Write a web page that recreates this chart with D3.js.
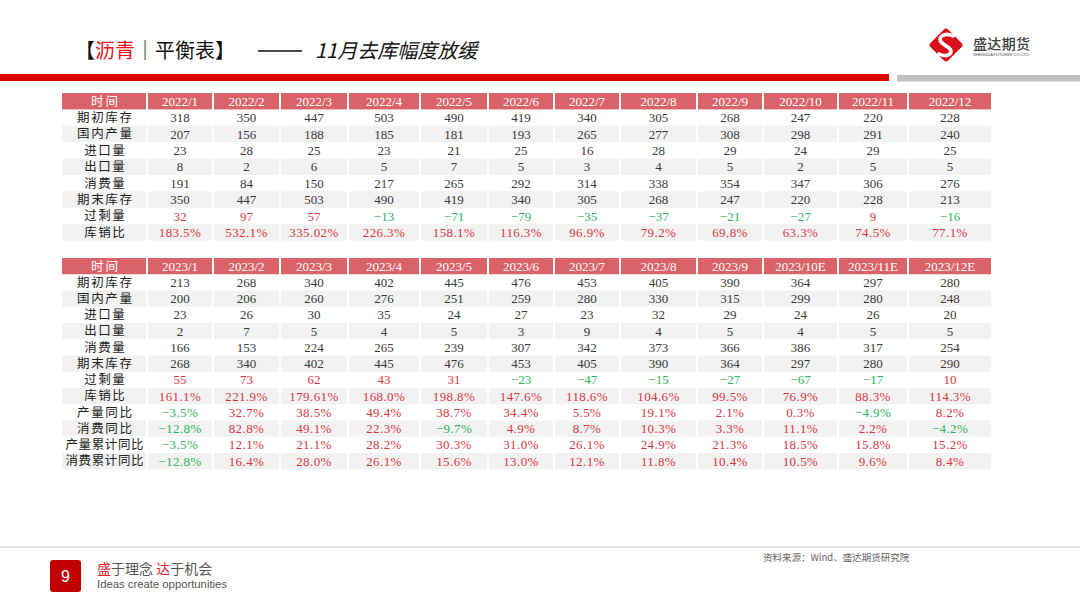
<!DOCTYPE html>
<html><head><meta charset="utf-8">
<script src="https://cdn.jsdelivr.net/npm/d3@7"></script>
<style>
html,body{margin:0;padding:0;background:#fff;}
svg{display:block;}
</style></head>
<body><svg id="c" width="1080" height="608"></svg>
<script>
// ---------- data ----------
const periods2022 = ["2022/1","2022/2","2022/3","2022/4","2022/5","2022/6","2022/7","2022/8","2022/9","2022/10","2022/11","2022/12"];
const periods2023 = ["2023/1","2023/2","2023/3","2023/4","2023/5","2023/6","2023/7","2023/8","2023/9","2023/10E","2023/11E","2023/12E"];
const rowLabels2022 = ["期初库存","国内产量","进口量","出口量","消费量","期末库存","过剩量","库销比"];
const rowLabels2023 = ["期初库存","国内产量","进口量","出口量","消费量","期末库存","过剩量","库销比","产量同比","消费同比","产量累计同比","消费累计同比"];

const openStock2022 = [318,350,447,503,490,419,340,305,268,247,220,228];
const output2022    = [207,156,188,185,181,193,265,277,308,298,291,240];
const imports2022   = [23,28,25,23,21,25,16,28,29,24,29,25];
const exports2022   = [8,2,6,5,7,5,3,4,5,2,5,5];
const consume2022   = [191,84,150,217,265,292,314,338,354,347,306,276];
const closeStock2022= [350,447,503,490,419,340,305,268,247,220,228,213];
const surplus2022   = [32,97,57,-13,-71,-79,-35,-37,-21,-27,9,-16];
const stockRatio2022= ["183.5","532.1","335.02","226.3","158.1","116.3","96.9","79.2","69.8","63.3","74.5","77.1"];

const openStock2023 = [213,268,340,402,445,476,453,405,390,364,297,280];
const output2023    = [200,206,260,276,251,259,280,330,315,299,280,248];
const imports2023   = [23,26,30,35,24,27,23,32,29,24,26,20];
const exports2023   = [2,7,5,4,5,3,9,4,5,4,5,5];
const consume2023   = [166,153,224,265,239,307,342,373,366,386,317,254];
const closeStock2023= [268,340,402,445,476,453,405,390,364,297,280,290];
const surplus2023   = [55,73,62,43,31,-23,-47,-15,-27,-67,-17,10];
const stockRatio2023= ["161.1","221.9","179.61","168.0","198.8","147.6","118.6","104.6","99.5","76.9","88.3","114.3"];
const outputYoY2023 = ["-3.5","32.7","38.5","49.4","38.7","34.4","5.5","19.1","2.1","0.3","-4.9","8.2"];
const consumeYoY2023= ["-12.8","82.8","49.1","22.3","-9.7","4.9","8.7","10.3","3.3","11.1","2.2","-4.2"];
const outputCumYoY2023 = ["-3.5","12.1","21.1","28.2","30.3","31.0","26.1","24.9","21.3","18.5","15.8","15.2"];
const consumeCumYoY2023= ["-12.8","16.4","28.0","26.1","15.6","13.0","12.1","11.8","10.4","10.5","9.6","8.4"];

// ---------- layout ----------
const svg = d3.select("#c");
const RED_HDR = "#d96369", GRAY_ROW = "#f2f2f2", TXT = "#3a3a3a", POS = "#d9363e", NEG = "#2fb35a";
const SERIF = "'Liberation Serif','Noto Sans CJK SC',serif";
const CJK = "'Noto Sans CJK SC',sans-serif";
const colWidths = [85,66,67,68,72,68,66,66,77,66,75,70,84];
const tableLeft = 62;

function makeX(cols){
  const keys = ["label"].concat(cols);
  const starts = []; let acc = tableLeft;
  colWidths.forEach(w => { starts.push(acc); acc += w; });
  return {
    x: d3.scaleOrdinal().domain(keys).range(starts),
    w: d3.scaleOrdinal().domain(keys).range(colWidths),
    keys
  };
}

function drawTable(top, rowH, cols, labels, rows){
  const g = svg.append("g");
  const {x, w, keys} = makeX(cols);
  const rowKeys = ["hdr"].concat(labels);
  const y = d3.scaleBand().domain(rowKeys).range([top, top + rowH*rowKeys.length]).padding(0);
  // backgrounds
  rowKeys.forEach((rk, ri) => {
    const fill = ri === 0 ? RED_HDR : (ri % 2 === 0 ? GRAY_ROW : null);
    if (!fill) return;
    g.selectAll(null).data(keys).enter().append("rect")
      .attr("x", d => x(d) + (d === "label" ? 0 : 1))
      .attr("width", d => w(d) - (d === "label" ? 1 : 2))
      .attr("y", y(rk)).attr("height", y.bandwidth())
      .attr("fill", fill);
  });
  // header text
  g.selectAll(null).data(keys).enter().append("text")
    .attr("x", d => x(d) + w(d)/2 + (d === "label" ? 1 : 0))
    .attr("y", y("hdr") + y.bandwidth()/2 + 4.5)
    .attr("text-anchor","middle")
    .attr("fill","#fff")
    .attr("font-family", d => d === "label" ? CJK : SERIF)
    .attr("font-size", d => d === "label" ? 12.5 : 13)
    .attr("letter-spacing", d => d === "label" ? 2 : 0)
    .text(d => d === "label" ? "时间" : d);
  // row labels
  const ls = d => d.length <= 4 ? 1.6 : 0.6;
  g.selectAll(null).data(labels).enter().append("text")
    .attr("x", d => x("label") + w("label")/2 + ls(d)/2)
    .attr("y", d => y(d) + y.bandwidth()/2 + 4.3)
    .attr("text-anchor","middle")
    .attr("fill", "#222")
    .attr("font-family", CJK)
    .attr("font-size", 12.5)
    .attr("letter-spacing", ls)
    .text(d => d);
  // values
  rows.forEach((r, ri) => {
    const lab = labels[ri];
    g.selectAll(null).data(r.values.map((v,i)=>({v, c: cols[i]}))).enter().append("text")
      .attr("x", d => x(d.c) + w(d.c)/2)
      .attr("y", y(lab) + y.bandwidth()/2 + 4.5)
      .attr("text-anchor","middle")
      .attr("font-family", SERIF)
      .attr("font-size", 13)
      .attr("letter-spacing", r.pct ? 0.4 : 0)
      .attr("fill", d => r.colored ? (parseFloat(d.v) < 0 ? NEG : POS) : TXT)
      .text(d => String(d.v).replace("-", "\u2212") + (r.pct ? "%" : ""));
  });
}

drawTable(93, 16.4, periods2022, rowLabels2022, [
  {values: openStock2022}, {values: output2022}, {values: imports2022}, {values: exports2022},
  {values: consume2022}, {values: closeStock2022},
  {values: surplus2022, colored: true}, {values: stockRatio2022, colored: true, pct: true}
]);
drawTable(258, 16.25, periods2023, rowLabels2023, [
  {values: openStock2023}, {values: output2023}, {values: imports2023}, {values: exports2023},
  {values: consume2023}, {values: closeStock2023},
  {values: surplus2023, colored: true}, {values: stockRatio2023, colored: true, pct: true},
  {values: outputYoY2023, colored: true, pct: true}, {values: consumeYoY2023, colored: true, pct: true},
  {values: outputCumYoY2023, colored: true, pct: true}, {values: consumeCumYoY2023, colored: true, pct: true}
]);

// ---------- title ----------
const t = svg.append("text").attr("x", 75).attr("y", 58).attr("font-family", CJK).attr("font-size", 20).attr("fill","#111");
t.append("tspan").text("【");
t.append("tspan").attr("fill","#e8141c").text("沥青");
t.append("tspan").text("｜平衡表】");
svg.append("line").attr("x1",258).attr("x2",302).attr("y1",51).attr("y2",51).attr("stroke","#111").attr("stroke-width",1.3);
svg.append("text").attr("x", 315).attr("y", 58).attr("font-family", CJK).attr("font-size", 20)
  .attr("font-style","italic").attr("fill","#111").text("11月去库幅度放缓");

// bars under title
svg.append("rect").attr("x",0).attr("y",74).attr("width",889).attr("height",7).attr("fill","#e00000");
svg.append("rect").attr("x",897).attr("y",75).attr("width",183).attr("height",6.5).attr("fill","#c0c0c0");

// logo
const lg = svg.append("g").attr("transform","translate(946,45)");
lg.append("rect").attr("x",-12.5).attr("y",-12.5).attr("width",25).attr("height",25).attr("rx",3)
  .attr("fill","#d7101b").attr("transform","rotate(45)");
lg.append("path").attr("d","M7,-9 C-1,-13 -10,-8 -4,-2 L3,3 C9,8 1,13 -7,9")
  .attr("fill","none").attr("stroke","#fff").attr("stroke-width",3.6).attr("stroke-linecap","round");
svg.append("text").attr("x",973).attr("y",49).attr("font-family",CJK).attr("font-size",14).attr("font-weight",500)
  .attr("fill","#3c3c3c").attr("textLength",57).text("盛达期货");
svg.append("text").attr("x",973).attr("y",56).attr("font-family","'Liberation Sans',sans-serif").attr("font-size",4.2)
  .attr("fill","#555").attr("textLength",57).text("SHENGDA FUTURES CO.,LTD.");

// ---------- footer ----------
svg.append("rect").attr("x",0).attr("y",546.5).attr("width",1080).attr("height",1.2).attr("fill","#cfcfcf");
svg.append("text").attr("x",763).attr("y",560.5).attr("font-family",CJK).attr("font-size",9.5).attr("fill","#666")
  .text("资料来源：Wind、盛达期货研究院");
svg.append("rect").attr("x",50).attr("y",560).attr("width",31).attr("height",32).attr("rx",3).attr("fill","#c00000");
svg.append("text").attr("x",65.5).attr("y",581.5).attr("text-anchor","middle").attr("font-family","'Liberation Sans',sans-serif")
  .attr("font-size",16).attr("fill","#fff").text("9");
const s = svg.append("text").attr("x",97).attr("y",574).attr("font-family",CJK).attr("font-size",14).attr("fill","#555");
s.append("tspan").attr("fill","#e8262c").text("盛");
s.append("tspan").text("于理念 ");
s.append("tspan").attr("fill","#e8262c").text("达");
s.append("tspan").text("于机会");
svg.append("text").attr("x",97).attr("y",588).attr("font-family","'Liberation Sans',sans-serif").attr("font-size",11.3)
  .attr("fill","#555").text("Ideas create opportunities");
</script></body></html>
